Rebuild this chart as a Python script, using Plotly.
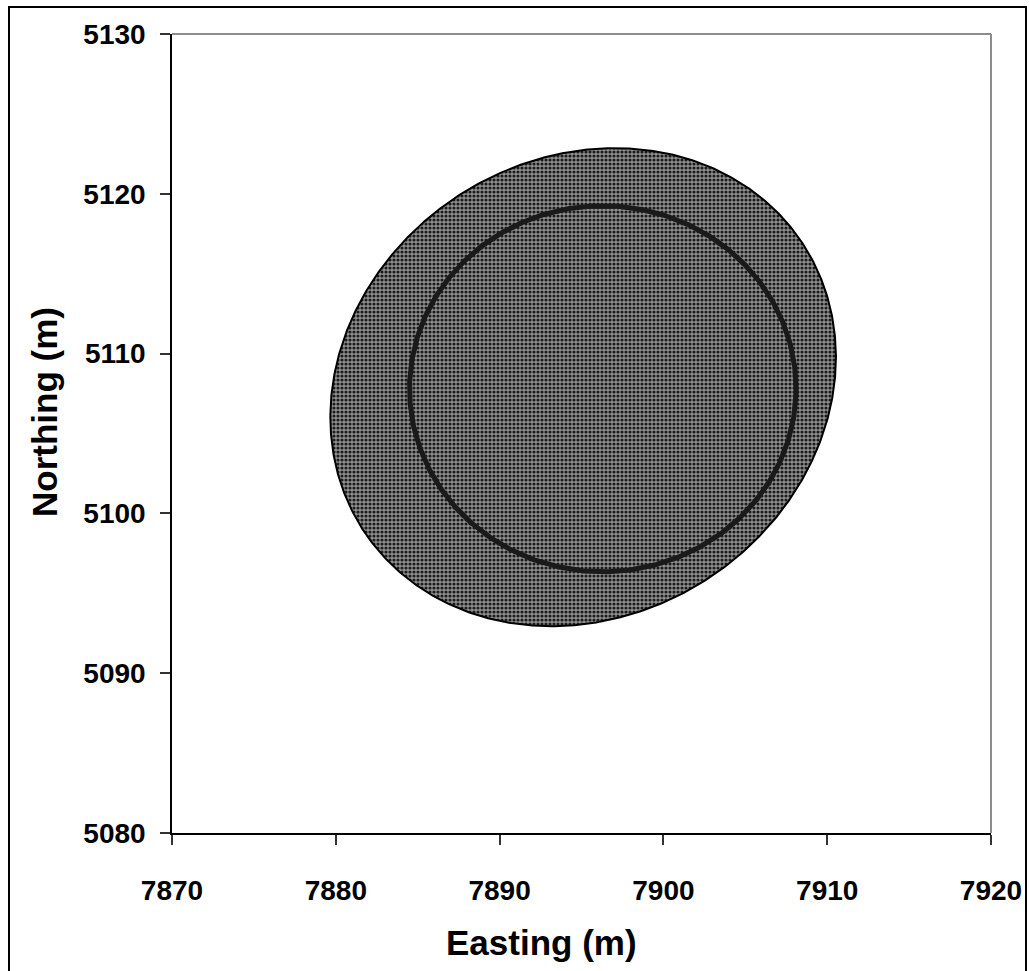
import numpy as np
import plotly.graph_objects as go

# Axis ranges and tick values
x_ticks = [7870, 7880, 7890, 7900, 7910, 7920]
y_ticks = [5080, 5090, 5100, 5110, 5120, 5130]

# Outer (rotated) ellipse: centre, semi-axes (m) and rotation (deg)
outer_center = [7895.1, 5107.9]
outer_axes = [16.15, 14.18]
outer_angle = 38.0

# Inner ellipse (near circle): centre and semi-axes (m)
inner_center = [7896.3, 5107.8]
inner_axes = [11.8, 11.45]

t = np.linspace(0, 2 * np.pi, 721)


def ellipse(center, axes, angle_deg=0.0):
    th = np.radians(angle_deg)
    u = axes[0] * np.cos(t)
    v = axes[1] * np.sin(t)
    x = center[0] + u * np.cos(th) - v * np.sin(th)
    y = center[1] + u * np.sin(th) + v * np.cos(th)
    return x, y


ox, oy = ellipse(outer_center, outer_axes, outer_angle)
ix, iy = ellipse(inner_center, inner_axes)

fig = go.Figure()
fig.add_trace(go.Scatter(
    x=ox, y=oy, mode="lines", fill="toself",
    line=dict(color="black", width=2),
    fillcolor="#777777",
    fillpattern=dict(shape=".", bgcolor="#929292", fgcolor="#1c1c1c",
                     size=4, solidity=0.5, fillmode="replace"),
    hoverinfo="skip", showlegend=False,
))
fig.add_trace(go.Scatter(
    x=ix, y=iy, mode="lines",
    line=dict(color="#1a1a1a", width=5),
    hoverinfo="skip", showlegend=False,
))

L, R, T, B = 172, 38, 34, 138
W, H = 1029, 971
pw, ph = W - L - R, H - T - B

FAM = "Liberation Sans, Arial, sans-serif"
tick_font = dict(family=FAM, size=28, color="black", weight="bold")
title_font = dict(family=FAM, size=35, color="black")

fig.update_layout(
    width=W, height=H,
    margin=dict(l=L, r=R, t=T, b=B, autoexpand=False),
    paper_bgcolor="white", plot_bgcolor="white",
    showlegend=False,
    font=dict(family=FAM, color="black"),
    xaxis=dict(
        range=[7870, 7920], tickvals=x_ticks, ticktext=[str(v) for v in x_ticks],
        showgrid=False, zeroline=False, automargin=False,
        showline=True, linecolor="black", linewidth=1.5,
        ticks="outside", ticklen=10, tickwidth=1.5, tickcolor="#333333",
        tickfont=tick_font, ticklabelstandoff=22,
    ),
    yaxis=dict(
        range=[5080, 5130], tickvals=y_ticks, ticktext=[str(v) for v in y_ticks],
        showgrid=False, zeroline=False, automargin=False,
        showline=True, linecolor="black", linewidth=1.5,
        ticks="outside", ticklen=10, tickwidth=1.5, tickcolor="#333333",
        tickfont=tick_font, ticklabelstandoff=9,
    ),
)

# Plot-area frame (top and right sides in grey)
fig.add_shape(type="line", xref="paper", yref="paper", x0=0, x1=1, y0=1, y1=1,
              line=dict(color="#8c8c8c", width=2), layer="below")
fig.add_shape(type="line", xref="paper", yref="paper", x0=1, x1=1, y0=0, y1=1,
              line=dict(color="#8c8c8c", width=2), layer="below")

# Chart-area border
fig.add_shape(type="rect", xref="paper", yref="paper",
              x0=(9 - L) / pw, x1=(1026 - L) / pw,
              y0=(H - B - 980) / ph, y1=(H - B - 7) / ph,
              line=dict(color="black", width=2), fillcolor="rgba(0,0,0,0)")

# Axis titles
fig.add_annotation(text="<b>Easting (m)</b>", xref="paper", yref="paper",
                   x=(541 - L) / pw, y=(H - B - 942) / ph, showarrow=False,
                   font=title_font, xanchor="center", yanchor="middle")
fig.add_annotation(text="<b>Northing (m)</b>", xref="paper", yref="paper",
                   x=(44 - L) / pw, y=(H - B - 412) / ph, showarrow=False, textangle=-90,
                   font=title_font, xanchor="center", yanchor="middle")

fig.write_html("out.html")
